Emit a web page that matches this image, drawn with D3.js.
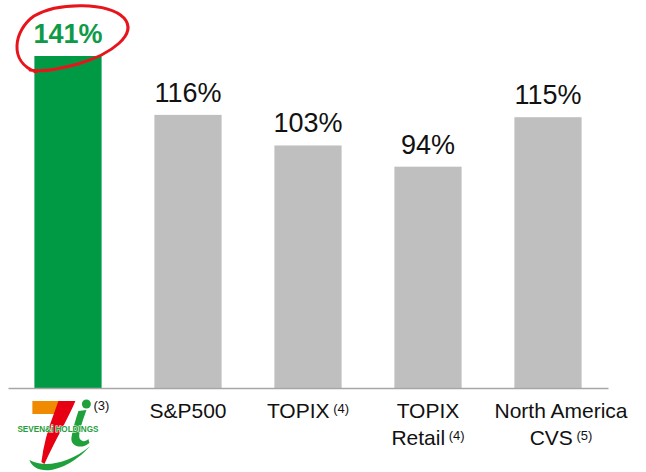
<!DOCTYPE html>
<html lang="en">
<head>
<meta charset="UTF-8">
<title>Total shareholder return</title>
<script src="https://d3js.org/d3.v7.min.js"></script>
<style>
    body { margin: 0; background: #fff; }
    svg { font-family: "Liberation Sans", Arial, sans-serif; }
    .value { font-size: 27px; fill: #111; }
    .value.own { fill: #0f9a48; font-weight: bold; }
    .cat { font-size: 21px; fill: #111; }
    .note { font-size: 13px; }
</style>
</head>
<body>
<svg id="chart" width="646" height="472"></svg>
<script>
    const categories = ['Seven & i Holdings', 'S&P500', 'TOPIX', 'TOPIX Retail', 'North America CVS'];
    const values = [141, 116, 103, 94, 115];
    const labelLines = [[], ['S&P500'], ['TOPIX'], ['TOPIX', 'Retail'], ['North America', 'CVS']];
    const notes = ['(3)', '', '(4)', '(4)', '(5)'];

    const data = categories.map((c, i) => ({ name: c, value: values[i], lines: labelLines[i], note: notes[i] }));

    const svg = d3.select('#chart');
    const baseY = 388;

    const x = d3.scaleBand()
        .domain(categories)
        .range([8, 608])
        .paddingInner(0.44)
        .paddingOuter(0.22);
    const y = d3.scaleLinear()
        .domain([0, 141])
        .range([baseY, 56]);

    // bars
    svg.selectAll('rect.bar')
        .data(data)
        .enter()
        .append('rect')
        .attr('class', 'bar')
        .attr('x', d => x(d.name))
        .attr('y', d => y(d.value))
        .attr('width', x.bandwidth())
        .attr('height', d => y(0) - y(d.value))
        .attr('fill', (d, i) => i === 0 ? '#009a44' : '#bfbfbf');

    // value labels
    svg.selectAll('text.value')
        .data(data)
        .enter()
        .append('text')
        .attr('class', (d, i) => i === 0 ? 'value own' : 'value')
        .attr('x', d => x(d.name) + x.bandwidth() / 2)
        .attr('y', d => y(d.value) - 13)
        .attr('text-anchor', 'middle')
        .text(d => d.value + '%');

    // red hand drawn circle round the first value
    const c0 = x(categories[0]) + x.bandwidth() / 2;
    svg.append('path')
        .attr('d', `M ${c0 - 32} 72 C ${c0 - 60} 62, ${c0 - 54} 30, ${c0 - 34} 16
                    C ${c0 - 10} 2, ${c0 + 40} 2, ${c0 + 56} 18
                    C ${c0 + 70} 34, ${c0 + 44} 54, ${c0 + 10} 64
                    C ${c0 - 12} 70, ${c0 - 28} 72, ${c0 - 38} 70`)
        .attr('fill', 'none')
        .attr('stroke', '#e8141b')
        .attr('stroke-width', 3)
        .attr('stroke-linecap', 'round');

    // axis line
    svg.append('g')
        .attr('transform', `translate(0,${baseY})`)
        .call(d3.axisBottom(x).tickSize(0).tickFormat(''))
        .call(g => g.select('.domain').attr('stroke', '#a6a6a6').attr('stroke-width', 1.5));

    // category labels
    const cats = svg.selectAll('text.cat')
        .data(data.slice(1))
        .enter()
        .append('text')
        .attr('class', 'cat')
        .attr('text-anchor', 'middle');

    cats.each(function(d) {
        const t = d3.select(this);
        const cx = x(d.name) + x.bandwidth() / 2 + (d.lines.length > 1 && d.lines[0].length > 6 ? 13 : 0);
        d.lines.forEach((line, j) => {
            const last = j === d.lines.length - 1;
            t.append('tspan')
                .attr('x', cx)
                .attr('y', 418 + j * 27)
                .text(line);
            if (last && d.note) {
                t.append('tspan')
                    .attr('class', 'note')
                    .attr('dy', -5)
                    .text(' ' + d.note);
            }
        });
    });

    // company logo in place of the first label
    const lx = x(categories[0]);
    const logo = svg.append('g').attr('transform', `translate(${lx},${baseY})`);
    logo.append('path')
        .attr('d', 'M -2 13 L 28 13 L 24 26 L -2 26 Z')
        .attr('fill', '#f08a00');
    logo.append('path')
        .attr('d', 'M 24 13 L 41 13 C 34 30, 22 50, 10 76 L 7 74 C 9 58, 13 42, 19 27 Z')
        .attr('fill', '#e60012');
    logo.append('path')
        .attr('d', 'M 44 23 L 52 22 C 48 34, 44 44, 45 50 C 47 54, 51 54, 54 51 L 55 55 C 47 62, 36 58, 37 50 C 38 42, 41 32, 44 23 Z')
        .attr('fill', '#1fa03a');
    logo.append('circle')
        .attr('cx', 52)
        .attr('cy', 16)
        .attr('r', 4.5)
        .attr('fill', '#1fa03a');
    logo.append('path')
        .attr('d', 'M -5 72 C 0 87, 28 88, 56 58 C 34 76, 10 80, -5 72 Z')
        .attr('fill', '#1fa03a');
    logo.append('text')
        .attr('x', -17)
        .attr('y', 44)
        .attr('textLength', 81)
        .attr('lengthAdjust', 'spacingAndGlyphs')
        .attr('font-size', 8.5)
        .attr('font-weight', 'bold')
        .attr('fill', '#1fa03a')
        .attr('stroke', '#fff')
        .attr('stroke-width', 1)
        .attr('paint-order', 'stroke')
        .text('SEVEN&i HOLDINGS');
    logo.append('text')
        .attr('class', 'note')
        .attr('x', 59)
        .attr('y', 22)
        .attr('fill', '#111')
        .text(data[0].note);
</script>
</body>
</html>
